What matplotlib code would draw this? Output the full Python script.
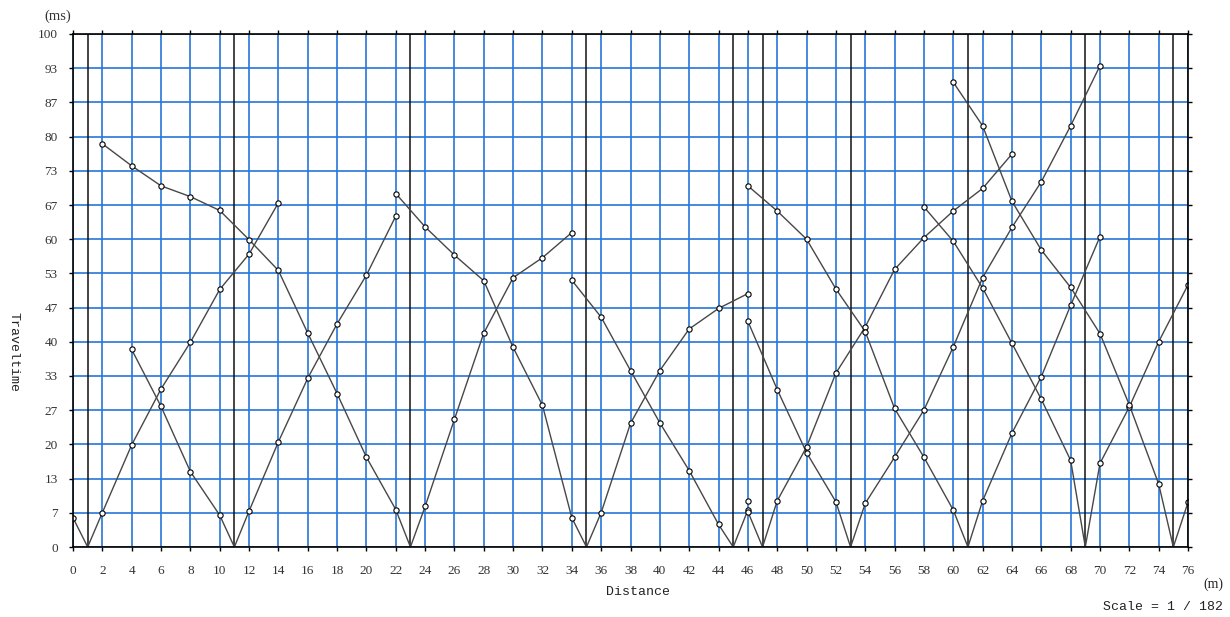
import numpy as np
import matplotlib
matplotlib.use("Agg")
import matplotlib.pyplot as plt

# shot (source) positions, m
sources = [1, 11, 23, 35, 45, 47, 53, 61, 69, 75]

# first-arrival picks per shot branch: distance (m), travel time (ms)
s1_left_x = [0, 1]
s1_left_t = [5.7, 0]
s1_right_x = [1, 2, 4, 6, 8, 10, 12, 14]
s1_right_t = [0, 6.7, 19.9, 30.8, 39.9, 50.2, 57.1, 67.1]

s11_left_x = [4, 6, 8, 10, 11]
s11_left_t = [38.5, 27.4, 14.7, 6.2, 0]
s11_right_x = [11, 12, 14, 16, 18, 20, 22]
s11_right_t = [0, 7.0, 20.5, 32.9, 43.5, 53.0, 64.5]

s23_left_x = [2, 4, 6, 8, 10, 12, 14, 16, 18, 20, 22, 23]
s23_left_t = [78.6, 74.3, 70.4, 68.3, 65.6, 59.9, 53.9, 41.7, 29.9, 17.5, 7.3, 0]
s23_right_x = [23, 24, 26, 28, 30, 32, 34]
s23_right_t = [0, 7.9, 24.9, 41.7, 52.5, 56.4, 61.3]

s35_left_x = [22, 24, 26, 28, 30, 32, 34, 35]
s35_left_t = [68.9, 62.4, 56.9, 51.9, 38.9, 27.6, 5.7, 0]
s35_right_x = [35, 36, 38, 40, 42, 44, 46]
s35_right_t = [0, 6.7, 24.1, 34.4, 42.5, 46.5, 49.4]

s45_left_x = [34, 36, 38, 40, 42, 44, 45]
s45_left_t = [52.0, 44.8, 34.4, 24.2, 14.9, 4.4, 0]
s45_right_x = [45, 46]
s45_right_t = [0, 7.2]

s47_left_x = [46, 47]
s47_left_t = [6.9, 0]
s47_right_x = [47, 48, 50, 52, 54, 56, 58, 60, 62, 64]
s47_right_t = [0, 9.0, 19.5, 33.9, 42.9, 54.1, 60.3, 65.5, 69.9, 76.6]

s53_left_x = [46, 48, 50, 52, 53]
s53_left_t = [44.0, 30.7, 18.4, 8.8, 0]
s53_right_x = [53, 54, 56, 58, 60, 62, 64, 66, 68, 70]
s53_right_t = [0, 8.5, 17.5, 26.7, 39.0, 52.5, 62.3, 71.2, 82.1, 93.8]

s61_left_x = [46, 48, 50, 52, 54, 56, 58, 60, 61]
s61_left_t = [70.4, 65.5, 60.0, 50.3, 42.0, 27.0, 17.5, 7.2, 0]
s61_right_x = [61, 62, 64, 66, 68, 70]
s61_right_t = [0, 9.0, 22.2, 33.2, 47.1, 60.5]

s69_left_x = [58, 60, 62, 64, 66, 68, 69]
s69_left_t = [66.3, 59.6, 50.5, 39.7, 28.8, 16.9, 0]
s69_right_x = [69, 70, 72, 74, 76]
s69_right_t = [0, 16.3, 27.3, 40.0, 51.1]

s75_left_x = [60, 62, 64, 66, 68, 70, 72, 74, 75]
s75_left_t = [90.6, 82.1, 67.4, 57.9, 50.6, 41.6, 27.7, 12.3, 0]
s75_right_x = [75, 76]
s75_right_t = [0, 8.7]

# lone pick with no line
extra_x = [46]
extra_t = [9.0]

branches = [
    (s1_left_x, s1_left_t), (s1_right_x, s1_right_t),
    (s11_left_x, s11_left_t), (s11_right_x, s11_right_t),
    (s23_left_x, s23_left_t), (s23_right_x, s23_right_t),
    (s35_left_x, s35_left_t), (s35_right_x, s35_right_t),
    (s45_left_x, s45_left_t), (s45_right_x, s45_right_t),
    (s47_left_x, s47_left_t), (s47_right_x, s47_right_t),
    (s53_left_x, s53_left_t), (s53_right_x, s53_right_t),
    (s61_left_x, s61_left_t), (s61_right_x, s61_right_t),
    (s69_left_x, s69_left_t), (s69_right_x, s69_right_t),
    (s75_left_x, s75_left_t), (s75_right_x, s75_right_t),
]

x_ticks = np.arange(0, 77, 2)
y_ticks = np.linspace(0, 100, 16)
y_tick_labels = [str(int(round(v))) for v in y_ticks]

grid_blue = "#2677d8"
line_col = "#474747"

fig = plt.figure(figsize=(12.3, 6.17), dpi=100)
ax = fig.add_axes([73 / 1230, 1 - 547 / 617, (1188 - 73) / 1230, (547 - 34) / 617])

ax.set_xlim(0, 76)
ax.set_ylim(0, 100)

for xv in x_ticks:
    ax.axvline(xv, color=grid_blue, lw=1.2, zorder=1)
for yv in y_ticks:
    ax.axhline(yv, color=grid_blue, lw=1.2, zorder=1)
for s in sources:
    ax.axvline(s, color="#111111", lw=1.1, zorder=2)

for bx, bt in branches:
    bx = np.array(bx)
    bt = np.array(bt)
    ax.plot(bx, bt, "-", color=line_col, lw=1.0, zorder=3)
    picked = bt > 0
    ax.plot(bx[picked], bt[picked], "o", ms=3.8, mfc="white", mec="black",
            mew=0.8, zorder=4)
ax.plot(extra_x, extra_t, "o", ms=3.8, mfc="white", mec="black", mew=0.8, zorder=4)

ax.set_xticks(x_ticks)
ax.set_xticklabels([str(v) for v in x_ticks], family="Liberation Serif",
                   fontsize=9.5, color="#333333")
ax.set_yticks(y_ticks)
ax.set_yticklabels(y_tick_labels, family="Liberation Serif", fontsize=9.5,
                   color="#333333")
ax.tick_params(direction="out", length=3, width=1, color="black",
               top=True, right=True, pad=8)
ax.tick_params(axis="x", pad=10)
for sp in ax.spines.values():
    sp.set_color("black")
    sp.set_linewidth(1.2)
    sp.set_zorder(5)

fig.text(58 / 1230, 1 - 16 / 617, "(ms)", family="Liberation Serif", fontsize=10.5,
         ha="center", va="center", color="#333333")
fig.text(13 / 1230, 1 - 352 / 617, "Traveltime", family="Liberation Mono",
         fontsize=9.5, rotation=270, ha="center", va="center", color="#222222")
fig.text(638 / 1230, 1 - 592 / 617, "Distance", family="Liberation Mono",
         fontsize=9.5, ha="center", va="center", color="#222222")
fig.text(1213 / 1230, 1 - 584 / 617, "(m)", family="Liberation Serif", fontsize=10,
         ha="center", va="center", color="#222222")
fig.text(1163 / 1230, 1 - 607 / 617, "Scale = 1 / 182", family="Liberation Mono",
         fontsize=9.5, ha="center", va="center", color="#222222")

fig.savefig("out.png", dpi=100)
